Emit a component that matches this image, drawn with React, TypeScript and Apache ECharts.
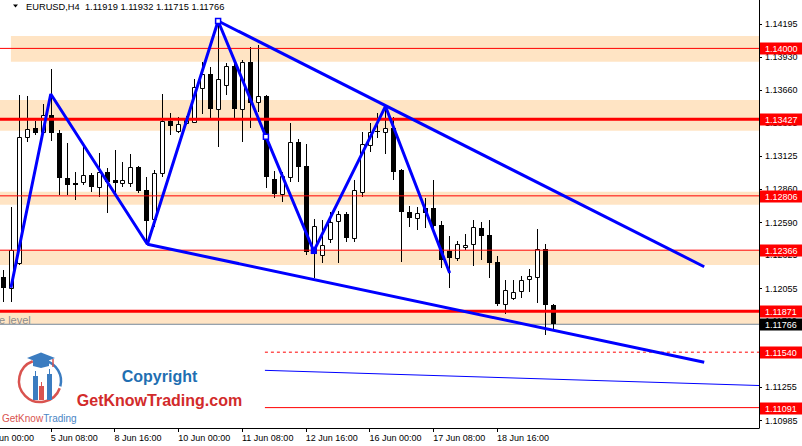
import React, { useEffect, useRef } from "react";
import * as echarts from "echarts";

// ---------- data ----------
const SYMBOL = "EURUSD,H4";
const FIRST_BAR = 2; // bar index of the first visible candle (4 Jun 00:00 = 0)
const opens = [
  1.12149, 1.1206, 1.1226, 1.1328, 1.13353, 1.1332, 1.13461, 1.13317, 1.12948, 1.1291,
  1.1292, 1.12975, 1.1288, 1.12997, 1.12934, 1.12907, 1.12907, 1.13037, 1.12853, 1.12616,
  1.12988, 1.13412, 1.13333, 1.13396, 1.13406, 1.13682, 1.1379, 1.13507, 1.13701, 1.13857,
  1.13507, 1.13887, 1.13563, 1.13614, 1.12942, 1.12818, 1.12961, 1.13239, 1.13048, 1.12341,
  1.12327, 1.12456, 1.12602, 1.12656, 1.12467, 1.12839, 1.13218, 1.13333, 1.1332, 1.13353,
  1.13015, 1.12677, 1.12624, 1.1271, 1.1271, 1.1257, 1.12359, 1.123, 1.12389, 1.12414,
  1.12543, 1.12489, 1.12268, 1.11928, 1.11981, 1.12035, 1.1213, 1.12151, 1.12373, 1.11919,
];
const highs = [
  1.12205, 1.12718, 1.13622, 1.13614, 1.13412, 1.13547, 1.13833, 1.13339, 1.13236, 1.13001,
  1.13218, 1.12991, 1.1315, 1.13031, 1.13177, 1.13082, 1.13142, 1.13048, 1.12956, 1.13015,
  1.13631, 1.13474, 1.13447, 1.13452, 1.13752, 1.13887, 1.13847, 1.14222, 1.13884, 1.13892,
  1.13906, 1.14009, 1.14027, 1.13622, 1.13007, 1.13001, 1.13393, 1.13266, 1.13223, 1.12618,
  1.1261, 1.12677, 1.12683, 1.12677, 1.12934, 1.13325, 1.13393, 1.13474, 1.13533, 1.13447,
  1.13023, 1.12726, 1.12718, 1.12791, 1.12934, 1.12602, 1.12481, 1.1244, 1.12494, 1.1261,
  1.12592, 1.1261, 1.12319, 1.12124, 1.12124, 1.12157, 1.12213, 1.12537, 1.12414, 1.11932,
];
const lows = [
  1.11949, 1.11949, 1.12246, 1.13244, 1.13299, 1.13315, 1.1325, 1.12813, 1.12813, 1.12772,
  1.12894, 1.12839, 1.12799, 1.12669, 1.12813, 1.1288, 1.1288, 1.12829, 1.12416, 1.12554,
  1.12961, 1.13299, 1.13312, 1.1338, 1.13404, 1.13469, 1.13434, 1.13204, 1.13622, 1.13434,
  1.13244, 1.13353, 1.13487, 1.12872, 1.12791, 1.12758, 1.1292, 1.1292, 1.12327, 1.12138,
  1.1226, 1.12426, 1.1226, 1.12434, 1.12434, 1.12799, 1.13163, 1.13272, 1.13142, 1.12934,
  1.12273, 1.12556, 1.12529, 1.12543, 1.12543, 1.12219, 1.12062, 1.12278, 1.12367, 1.1224,
  1.12286, 1.12138, 1.11916, 1.11847, 1.11962, 1.11981, 1.1203, 1.11936, 1.11679, 1.11715,
];
const closes = [
  1.1206, 1.12367, 1.1328, 1.13345, 1.13312, 1.13461, 1.13312, 1.12948, 1.12894, 1.12894,
  1.12975, 1.1288, 1.13001, 1.1292, 1.12907, 1.12934, 1.13037, 1.12845, 1.12605, 1.12988,
  1.13412, 1.13374, 1.13388, 1.13428, 1.1369, 1.1379, 1.13507, 1.1375, 1.13857, 1.13507,
  1.13887, 1.13555, 1.13614, 1.12961, 1.12818, 1.12967, 1.13239, 1.13042, 1.12354, 1.12562,
  1.12408, 1.12596, 1.12656, 1.12467, 1.12853, 1.13223, 1.13325, 1.1332, 1.13353, 1.13001,
  1.12677, 1.12624, 1.12665, 1.12665, 1.12564, 1.12286, 1.123, 1.12414, 1.12408, 1.12551,
  1.12483, 1.12264, 1.11928, 1.12041, 1.1203, 1.12127, 1.12154, 1.12373, 1.11922, 1.11766,
];

const timeLabels = [
  "4 Jun 00:00", "5 Jun 08:00", "8 Jun 16:00", "10 Jun 00:00", "11 Jun 08:00",
  "12 Jun 16:00", "16 Jun 00:00", "17 Jun 08:00", "18 Jun 16:00",
];
const BARS_PER_LABEL = 8;
const priceTicks = [
  1.14195, 1.1393, 1.1366, 1.13395, 1.13125, 1.1286, 1.1259, 1.12325, 1.12055, 1.1179,
  1.1152, 1.11255, 1.10985,
];

// zigzag (bar index, price)
const zigzag = [
  [3, 1.12062], [8, 1.13631], [20.125, 1.12414], [29, 1.14222], [35, 1.13285],
  [41, 1.12359], [50, 1.13531], [58.06, 1.12181],
];
const upperTrend = [[29, 1.14222], [90, 1.12232]];
const lowerTrend = [[20.125, 1.12414], [90, 1.11458]];
const thinBlue = [[34.875, 1.11393], [96.875, 1.1127]];

// zones: start bar, top price, bottom price
const zoneStarts = [3, 0, 0, 0, 0];
const zoneTops = [1.141, 1.13582, 1.12839, 1.12367, 1.11871];
const zoneBottoms = [1.13892, 1.13333, 1.12734, 1.12246, 1.11766];

// full-width red levels
const redLevels = [1.14, 1.13427, 1.12806, 1.12366, 1.11871];
const redWidths = [1, 3, 1, 1, 3];
const shortStart = 34.875;
const dashedLevel = 1.1154;
const lowLevel = 1.11091;
const bidPrice = 1.11766;

const tagPrices = [1.14, 1.13427, 1.12806, 1.12366, 1.11871, 1.11766, 1.1154, 1.11091];
const tagDark = [0, 0, 0, 0, 0, 1, 0, 0];

// ---------- layout constants ----------
const OFF = 16; // the chart div starts 16px left of the page so the first label is cut
const X_MIN = 0;
const X_MAX = 96.875;
const Y_MIN = 1.10926;
const Y_MAX = 1.14392;
const FONT = "Liberation Sans";
const BLUE = "#0000ff";
const RED = "#ff0000";

function buildOption() {
  const candles = opens.map((o, i) => [FIRST_BAR + i, o, closes[i], lows[i], highs[i]]);
  const zones = zoneStarts.map((s, i) => [s, zoneTops[i], zoneBottoms[i]]);
  const tags = tagPrices.map((p, i) => [p, tagDark[i]]);

  const line = (data: any[], color: string, width: number, z: number, dashed = false) => ({
    type: "line",
    data,
    symbol: "none",
    showSymbol: false,
    silent: true,
    z,
    lineStyle: { color, width, type: dashed ? [3, 3] : "solid" },
  });

  const zigData = zigzag.map((p, i) => {
    if (i === 3 || i === 4) {
      return {
        value: p,
        symbol: "rect",
        symbolSize: 5,
        itemStyle: { color: "#fff", borderColor: BLUE, borderWidth: 1.5 },
      };
    }
    if (i === 5) {
      return { value: p, symbol: "rect", symbolSize: 6, itemStyle: { color: BLUE } };
    }
    return { value: p, symbol: "none" };
  });

  const last = opens.length - 1;
  const title = `${SYMBOL}  ${opens[last].toFixed(5)} ${highs[last].toFixed(5)} ${lows[last].toFixed(5)} ${closes[last].toFixed(5)}`;
  const g = (x: number) => x + OFF;

  return {
    animation: false,
    backgroundColor: "#ffffff",
    grid: { left: 0, right: 43, top: 0, bottom: 18, containLabel: false },
    xAxis: {
      type: "value",
      min: X_MIN,
      max: X_MAX,
      splitLine: { show: false },
      axisLine: { show: true, onZero: false, lineStyle: { color: "#000", width: 1 } },
      axisTick: {
        show: true,
        length: 4,
        lineStyle: { color: "#000" },
        customValues: timeLabels.map((_, i) => i * BARS_PER_LABEL),
      },
      axisLabel: {
        show: true,
        customValues: timeLabels.map((_, i) => i * BARS_PER_LABEL),
        formatter: (v: number) => timeLabels[Math.round(v / BARS_PER_LABEL)] ?? "",
        align: "left",
        margin: 5,
        color: "#000",
        fontSize: 9,
        fontFamily: FONT,
      },
    },
    yAxis: {
      type: "value",
      position: "right",
      min: Y_MIN,
      max: Y_MAX,
      scale: true,
      splitLine: { show: false },
      axisLine: { show: true, onZero: false, lineStyle: { color: "#000", width: 1 } },
      axisTick: { show: true, length: 3, lineStyle: { color: "#000" }, customValues: priceTicks },
      axisLabel: {
        show: true,
        customValues: priceTicks,
        formatter: (v: number) => v.toFixed(5),
        margin: 6,
        color: "#000",
        fontSize: 9,
        fontFamily: FONT,
      },
    },
    series: [
      {
        type: "custom",
        name: "zones",
        z: 1,
        silent: true,
        clip: true,
        data: zones,
        renderItem: (params: any, api: any) => {
          const p1 = api.coord([api.value(0), api.value(1)]);
          const p2 = api.coord([X_MAX, api.value(2)]);
          return {
            type: "rect",
            shape: { x: p1[0], y: p1[1], width: p2[0] - p1[0], height: p2[1] - p1[1] },
            style: { fill: "#ffe4c4" },
          };
        },
      },
      line([[X_MIN, bidPrice], [X_MAX, bidPrice]], "#778899", 1, 2),
      {
        type: "custom",
        name: "candles",
        z: 3,
        silent: true,
        clip: true,
        data: candles,
        renderItem: (params: any, api: any) => {
          const k = api.value(0);
          const o = api.value(1);
          const c = api.value(2);
          const l = api.value(3);
          const h = api.value(4);
          const pO = api.coord([k, o]);
          const pC = api.coord([k, c]);
          const pH = api.coord([k, h]);
          const pL = api.coord([k, l]);
          const x = Math.round(pO[0]) + 0.5;
          const top = Math.round(Math.min(pO[1], pC[1]));
          const bot = Math.round(Math.max(pO[1], pC[1]));
          const bull = c >= o;
          const body = bull
            ? {
                type: "rect",
                shape: { x: x - 2, y: top + 0.5, width: 4, height: Math.max(bot - top, 1) },
                style: { fill: "#fff", stroke: "#000", lineWidth: 1 },
              }
            : {
                type: "rect",
                shape: { x: x - 2.5, y: top, width: 5, height: Math.max(bot - top, 1) },
                style: { fill: "#000" },
              };
          return {
            type: "group",
            children: [
              {
                type: "line",
                shape: { x1: x, y1: Math.round(pH[1]), x2: x, y2: Math.round(pL[1]) },
                style: { stroke: "#000", lineWidth: 1 },
              },
              body,
            ],
          };
        },
      },
      ...redLevels.map((p, i) => line([[X_MIN, p], [X_MAX, p]], RED, redWidths[i], 4)),
      line([[shortStart, dashedLevel], [X_MAX, dashedLevel]], RED, 1, 4, true),
      line([[shortStart, lowLevel], [X_MAX, lowLevel]], RED, 1, 4),
      line(thinBlue, BLUE, 1, 4),
      line(upperTrend, BLUE, 3, 5),
      line(lowerTrend, BLUE, 3, 5),
      { ...line(zigData, BLUE, 3, 6), symbol: "none", showSymbol: true },
      {
        type: "custom",
        name: "tags",
        z: 10,
        silent: true,
        clip: false,
        data: tags,
        renderItem: (params: any, api: any) => {
          const price = api.value(0);
          const dark = api.value(1) === 1;
          const y = api.coord([X_MIN, price])[1];
          const cs = params.coordSys;
          const x = cs.x + cs.width + 1;
          return {
            type: "group",
            children: [
              {
                type: "rect",
                shape: { x, y: Math.round(y) - 5.5, width: 50, height: 12 },
                style: { fill: dark ? "#000" : RED },
              },
              {
                type: "text",
                x: x + 5,
                y: Math.round(y) + 0.5,
                style: {
                  text: price.toFixed(5),
                  fill: "#fff",
                  fontSize: 9,
                  fontFamily: FONT,
                  verticalAlign: "middle",
                  align: "left",
                },
              },
            ],
          };
        },
      },
    ],
    graphic: [
      {
        type: "polygon",
        z: 20,
        shape: { points: [[g(13), 4.5], [g(18), 4.5], [g(15.5), 7.5]] },
        style: { fill: "#000" },
      },
      {
        type: "text",
        z: 20,
        x: g(26),
        y: 6.5,
        style: { text: title, fill: "#000", fontSize: 9.3, fontFamily: FONT, verticalAlign: "middle" },
      },
      {
        type: "text",
        z: 20,
        x: g(-1),
        y: 319.5,
        style: { text: "e level", fill: "#8c8c8c", fontSize: 11, fontFamily: FONT, verticalAlign: "middle" },
      },
      // logo ring
      {
        type: "arc",
        shape: { cx: g(40), cy: 381, r: 21, startAngle: 0.35, endAngle: 4.36, clockwise: true },
        style: { stroke: "#d9534f", lineWidth: 2.5, fill: "none" },
      },
      {
        type: "arc",
        shape: { cx: g(40), cy: 381, r: 21, startAngle: 4.97, endAngle: 6.54, clockwise: true },
        style: { stroke: "#3b7cc0", lineWidth: 2.5, fill: "none" },
      },
      // cap
      {
        type: "polygon",
        shape: { points: [[g(27), 358], [g(41), 352.5], [g(55), 358], [g(41), 363.5]] },
        style: { fill: "#3b7cc0" },
      },
      {
        type: "polygon",
        shape: { points: [[g(33), 360], [g(49), 360], [g(49), 366], [g(41), 368], [g(33), 366]] },
        style: { fill: "#3b7cc0" },
      },
      {
        type: "line",
        shape: { x1: g(53), y1: 359, x2: g(53), y2: 367 },
        style: { stroke: "#d9534f", lineWidth: 1.5 },
      },
      // mini candles
      { type: "line", shape: { x1: g(35.5), y1: 371, x2: g(35.5), y2: 377 }, style: { stroke: "#3b7cc0", lineWidth: 1 } },
      { type: "rect", shape: { x: g(33), y: 376, width: 5, height: 24 }, style: { fill: "#3b7cc0" } },
      { type: "line", shape: { x1: g(41.5), y1: 382, x2: g(41.5), y2: 387 }, style: { stroke: "#d9534f", lineWidth: 1 } },
      { type: "rect", shape: { x: g(39), y: 386, width: 5, height: 14 }, style: { fill: "#d9534f" } },
      { type: "line", shape: { x1: g(49.5), y1: 369, x2: g(49.5), y2: 375 }, style: { stroke: "#3b7cc0", lineWidth: 1 } },
      { type: "rect", shape: { x: g(47), y: 374, width: 5, height: 26 }, style: { fill: "#3b7cc0" } },
      {
        type: "text",
        x: g(2),
        y: 418,
        style: {
          text: "{a|GetKnow}{b|Trading}",
          verticalAlign: "middle",
          rich: {
            a: { fill: "#d9534f", fontSize: 10, fontFamily: FONT },
            b: { fill: "#4a86c5", fontSize: 10, fontFamily: FONT },
          },
        },
      },
      {
        type: "text",
        x: g(159.5),
        y: 376.5,
        style: {
          text: "Copyright",
          fill: "#1f6fb2",
          fontSize: 16,
          fontWeight: "bold",
          fontFamily: FONT,
          align: "center",
          verticalAlign: "middle",
        },
      },
      {
        type: "text",
        x: g(159.5),
        y: 400,
        style: {
          text: "GetKnowTrading.com",
          fill: "#d22b2b",
          fontSize: 16,
          fontWeight: "bold",
          fontFamily: FONT,
          align: "center",
          verticalAlign: "middle",
        },
      },
    ],
  };
}

export default function App() {
  const ref = useRef<HTMLDivElement>(null);
  useEffect(() => {
    document.body.style.margin = "0";
    document.body.style.overflow = "hidden";
    const chart = echarts.init(ref.current as HTMLDivElement, null, { renderer: "svg" });
    chart.setOption(buildOption() as any);
    return () => chart.dispose();
  }, []);
  return (
    <div
      ref={ref}
      style={{ position: "fixed", left: -OFF, top: 0, width: 802 + OFF, height: 446, background: "#fff" }}
    />
  );
}
